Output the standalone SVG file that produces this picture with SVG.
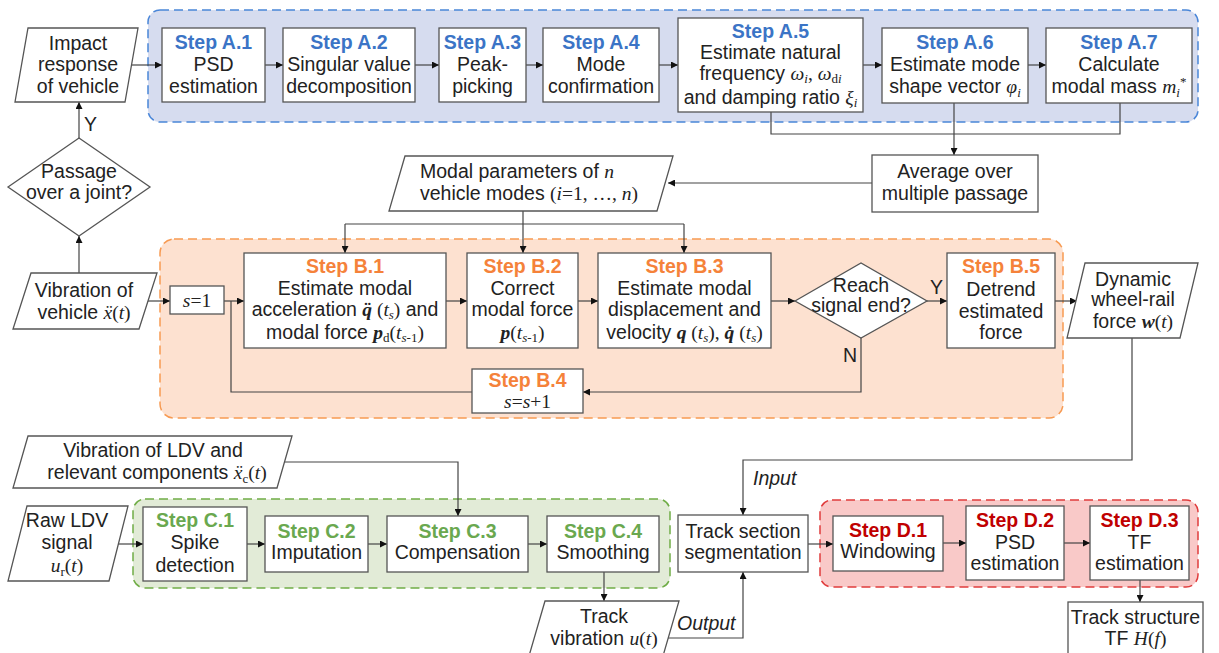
<svg xmlns="http://www.w3.org/2000/svg" width="1219" height="653" viewBox="0 0 1219 653">
<defs>
<marker id="ah" viewBox="0 0 10 10" refX="10" refY="5" markerWidth="8" markerHeight="7" markerUnits="userSpaceOnUse" orient="auto"><path d="M0,0 L10,5 L0,10 z" fill="#111"/></marker>
<style>
.box{fill:#fff;stroke:#555;stroke-width:1.3}
.t{font-family:"Liberation Sans",Arial,sans-serif;font-size:19.5px;fill:#222;text-anchor:middle}
.st{font-weight:bold}
.sA{fill:#3b74c6}.sB{fill:#f5823a}.sC{fill:#6aa84f}.sD{fill:#c00000}
.m{font-family:"Liberation Serif","Times New Roman",serif;font-style:italic}
.r{font-family:"Liberation Serif","Times New Roman",serif;font-style:normal}
.b{font-weight:bold}
.sub{font-size:13px}
.c{fill:none;stroke:#444;stroke-width:1.2}
.ca{fill:none;stroke:#444;stroke-width:1.2;marker-end:url(#ah)}
.lab{font-family:"Liberation Sans",Arial,sans-serif;font-size:19.5px;fill:#222}
</style>
</defs>
<rect width="1219" height="653" fill="#fff"/>

<g id="groups">
<rect x="148" y="10" width="1050" height="112" rx="12" fill="#d6dcef" stroke="#4a86d8" stroke-width="1.5" stroke-dasharray="9,5"/>
<rect x="160" y="239" width="903" height="179" rx="14" fill="#fde1d0" stroke="#f79a52" stroke-width="1.5" stroke-dasharray="9,5"/>
<rect x="133" y="499" width="537" height="89" rx="12" fill="#e2ebd7" stroke="#70ad47" stroke-width="1.5" stroke-dasharray="9,5"/>
<rect x="820" y="500" width="378" height="87" rx="12" fill="#f9c9c8" stroke="#e03c3c" stroke-width="1.5" stroke-dasharray="9,5"/>
</g>

<g id="connectors">
<path class="ca" d="M131,65 H162"/>
<path class="ca" d="M265,65 H283"/>
<path class="ca" d="M415,65 H439"/>
<path class="ca" d="M526,65 H543"/>
<path class="ca" d="M659,65 H678"/>
<path class="ca" d="M863,65 H882"/>
<path class="ca" d="M1028,65 H1046"/>
<path class="c" d="M771,112 V134 H1120 V103"/>
<path class="ca" d="M954,103 V155"/>
<path class="ca" d="M872,183 H668"/>
<path class="ca" d="M523,211 V253"/>
<path class="c" d="M345,224 H684"/>
<path class="ca" d="M345,224 V253"/>
<path class="ca" d="M684,224 V253"/>
<path class="ca" d="M79,273 V236"/>
<path class="ca" d="M79,138 V102"/>
<path class="ca" d="M146,301 H170"/>
<path class="ca" d="M224,301 H244"/>
<path class="ca" d="M446,301 H467"/>
<path class="ca" d="M578,301 H598"/>
<path class="ca" d="M771,301 H795"/>
<path class="ca" d="M927,301 H947"/>
<path class="ca" d="M1055,301 H1077"/>
<path class="ca" d="M861,338 V392 H583"/>
<path class="c" d="M472,392 H231 V301"/>
<path class="ca" d="M1132,338 V460 H743 V515"/>
<path class="ca" d="M285,462 H458 V516"/>
<path class="ca" d="M117,544 H143"/>
<path class="ca" d="M247,544 H265"/>
<path class="ca" d="M368,544 H387"/>
<path class="ca" d="M528,544 H547"/>
<path class="ca" d="M604,572 V601"/>
<path class="ca" d="M667,638 H743 V572"/>
<path class="ca" d="M808,544 H833"/>
<path class="ca" d="M943,543 H966"/>
<path class="ca" d="M1064,543 H1090"/>
<path class="ca" d="M1140,580 V602"/>
<text class="lab" x="84" y="131">Y</text>
<text class="lab" x="930" y="294">Y</text>
<text class="lab" x="843" y="362">N</text>
<text class="lab" x="753" y="485" font-style="italic">Input</text>
<text class="lab" x="677" y="630" font-style="italic">Output</text>
</g>

<g id="impact">
<polygon class="box" points="28,28 138,28 125,102 15,102"/>
<text class="t" x="78" y="50">Impact</text>
<text class="t" x="78" y="71">response</text>
<text class="t" x="78" y="93">of vehicle</text>
</g>

<g id="A1"><rect class="box" x="162" y="28" width="103" height="74"/>
<text class="t st sA" x="213.5" y="49">Step A.1</text>
<text class="t" x="213.5" y="71">PSD</text>
<text class="t" x="213.5" y="93">estimation</text></g>

<g id="A2"><rect class="box" x="283" y="28" width="132" height="74"/>
<text class="t st sA" x="349" y="49">Step A.2</text>
<text class="t" x="349" y="71">Singular value</text>
<text class="t" x="349" y="93">decomposition</text></g>

<g id="A3"><rect class="box" x="439" y="28" width="87" height="74"/>
<text class="t st sA" x="482.5" y="49">Step A.3</text>
<text class="t" x="482.5" y="71">Peak-</text>
<text class="t" x="482.5" y="93">picking</text></g>

<g id="A4"><rect class="box" x="543" y="28" width="116" height="74"/>
<text class="t st sA" x="601" y="49">Step A.4</text>
<text class="t" x="601" y="71">Mode</text>
<text class="t" x="601" y="93">confirmation</text></g>

<g id="A5"><rect class="box" x="678" y="18" width="185" height="94"/>
<text class="t st sA" x="770.5" y="38">Step A.5</text>
<text class="t" x="770.5" y="59">Estimate natural</text>
<text class="t" x="770.5" y="80">frequency <tspan class="m">ω</tspan><tspan class="m sub" dy="3">i</tspan><tspan class="r" dy="-3">, </tspan><tspan class="m">ω</tspan><tspan class="r sub" dy="3">d</tspan><tspan class="m sub">i</tspan></text>
<text class="t" x="770.5" y="104">and damping ratio <tspan class="m">ξ</tspan><tspan class="m sub" dy="3">i</tspan></text></g>

<g id="A6"><rect class="box" x="882" y="28" width="146" height="75"/>
<text class="t st sA" x="955" y="49">Step A.6</text>
<text class="t" x="955" y="71">Estimate mode</text>
<text class="t" x="955" y="93">shape vector <tspan class="m">φ</tspan><tspan class="m sub" dy="4">i</tspan></text></g>

<g id="A7"><rect class="box" x="1046" y="28" width="146" height="75"/>
<text class="t st sA" x="1119" y="49">Step A.7</text>
<text class="t" x="1119" y="71">Calculate</text>
<text class="t" x="1119" y="93">modal mass <tspan class="m">m</tspan><tspan class="m sub" dy="4">i</tspan><tspan class="r sub" dy="-11">*</tspan></text></g>

<g id="average"><rect class="box" x="872" y="155" width="166" height="57"/>
<text class="t" x="955" y="178">Average  over</text>
<text class="t" x="955" y="200">multiple passage</text></g>

<g id="modal-params">
<polygon class="box" points="405,156 673,156 657,211 389,211"/>
<text class="t" x="420" y="178" style="text-anchor:start">Modal parameters of <tspan class="m">n</tspan></text>
<text class="t" x="420" y="200" style="text-anchor:start">vehicle modes <tspan class="r">(</tspan><tspan class="m">i</tspan><tspan class="r">=1, …, </tspan><tspan class="m">n</tspan><tspan class="r">)</tspan></text>
</g>

<g id="passage">
<polygon class="box" points="8,187 79,138 150,187 79,236"/>
<text class="t" x="79" y="178">Passage</text>
<text class="t" x="79" y="199">over a joint?</text>
</g>

<g id="vib-vehicle">
<polygon class="box" points="31,273 157,273 139,329 13,329"/>
<text class="t" x="84" y="297">Vibration of</text>
<text class="t" x="84" y="319">vehicle <tspan class="m">ẍ</tspan><tspan class="r">(</tspan><tspan class="m">t</tspan><tspan class="r">)</tspan></text>
</g>

<g id="s1"><rect class="box" x="170" y="286" width="54" height="28"/>
<text class="t" x="197" y="307"><tspan class="m">s</tspan><tspan class="r">=1</tspan></text></g>

<g id="B1"><rect class="box" x="244" y="253" width="202" height="95"/>
<text class="t st sB" x="345" y="273">Step B.1</text>
<text class="t" x="345" y="295">Estimate modal</text>
<text class="t" x="345" y="316">acceleration <tspan class="m b">q̈</tspan><tspan class="r"> (</tspan><tspan class="m">t</tspan><tspan class="m sub" dy="3">s</tspan><tspan class="r" dy="-3">)</tspan> and</text>
<text class="t" x="345" y="339">modal force <tspan class="m b">p</tspan><tspan class="r sub" dy="3">d</tspan><tspan class="r" dy="-3">(</tspan><tspan class="m">t</tspan><tspan class="r sub" dy="3"><tspan class="m">s</tspan>-1</tspan><tspan class="r" dy="-3">)</tspan></text></g>

<g id="B2"><rect class="box" x="467" y="253" width="111" height="95"/>
<text class="t st sB" x="522.5" y="273">Step B.2</text>
<text class="t" x="522.5" y="295">Correct</text>
<text class="t" x="522.5" y="316">modal force</text>
<text class="t" x="522.5" y="339"><tspan class="m b">p</tspan><tspan class="r">(</tspan><tspan class="m">t</tspan><tspan class="r sub" dy="3"><tspan class="m">s</tspan>-1</tspan><tspan class="r" dy="-3">)</tspan></text></g>

<g id="B3"><rect class="box" x="598" y="253" width="173" height="95"/>
<text class="t st sB" x="684.5" y="273">Step B.3</text>
<text class="t" x="684.5" y="295">Estimate modal</text>
<text class="t" x="684.5" y="316">displacement and</text>
<text class="t" x="684.5" y="339">velocity <tspan class="m b">q</tspan><tspan class="r"> (</tspan><tspan class="m">t</tspan><tspan class="m sub" dy="3">s</tspan><tspan class="r" dy="-3">),  </tspan><tspan class="m b">q̇</tspan><tspan class="r"> (</tspan><tspan class="m">t</tspan><tspan class="m sub" dy="3">s</tspan><tspan class="r" dy="-3">)</tspan></text></g>

<g id="reach">
<polygon class="box" points="795,301 861,263 927,301 861,338"/>
<text class="t" x="861" y="292">Reach</text>
<text class="t" x="861" y="312">signal end?</text>
</g>

<g id="B5"><rect class="box" x="947" y="253" width="108" height="95"/>
<text class="t st sB" x="1001" y="273">Step B.5</text>
<text class="t" x="1001" y="296">Detrend</text>
<text class="t" x="1001" y="318">estimated</text>
<text class="t" x="1001" y="339">force</text></g>

<g id="B4"><rect class="box" x="472" y="369" width="111" height="44"/>
<text class="t st sB" x="527.5" y="387">Step B.4</text>
<text class="t" x="527.5" y="408"><tspan class="m">s</tspan><tspan class="r">=</tspan><tspan class="m">s</tspan><tspan class="r">+1</tspan></text></g>

<g id="dynamic">
<polygon class="box" points="1085,263 1198,263 1180,338 1067,338"/>
<text class="t" x="1133" y="286">Dynamic</text>
<text class="t" x="1133" y="306">wheel-rail</text>
<text class="t" x="1133" y="328">force <tspan class="m b">w</tspan><tspan class="r">(</tspan><tspan class="m">t</tspan><tspan class="r">)</tspan></text>
</g>

<g id="ldv-vib">
<polygon class="box" points="28,436 292,436 277,488 13,488"/>
<text class="t" x="153" y="457">Vibration of LDV and</text>
<text class="t" x="157" y="479">relevant components <tspan class="m">ẍ</tspan><tspan class="r sub" dy="4">c</tspan><tspan class="r" dy="-4">(</tspan><tspan class="m">t</tspan><tspan class="r">)</tspan></text>
</g>

<g id="raw-ldv">
<polygon class="box" points="27,506 128,506 109,581 8,581"/>
<text class="t" x="67" y="527">Raw LDV</text>
<text class="t" x="67" y="549">signal</text>
<text class="t" x="67" y="572"><tspan class="m">u</tspan><tspan class="r sub" dy="4">r</tspan><tspan class="r" dy="-4">(</tspan><tspan class="m">t</tspan><tspan class="r">)</tspan></text>
</g>

<g id="C1"><rect class="box" x="143" y="507" width="104" height="74"/>
<text class="t st sC" x="195" y="527">Step C.1</text>
<text class="t" x="195" y="549">Spike</text>
<text class="t" x="195" y="572">detection</text></g>

<g id="C2"><rect class="box" x="265" y="516" width="103" height="56"/>
<text class="t st sC" x="316.5" y="538">Step C.2</text>
<text class="t" x="316.5" y="559">Imputation</text></g>

<g id="C3"><rect class="box" x="387" y="516" width="141" height="56"/>
<text class="t st sC" x="457.5" y="538">Step C.3</text>
<text class="t" x="457.5" y="559">Compensation</text></g>

<g id="C4"><rect class="box" x="547" y="516" width="112" height="56"/>
<text class="t st sC" x="603" y="538">Step C.4</text>
<text class="t" x="603" y="559">Smoothing</text></g>

<g id="track-vib">
<polygon class="box" points="545,601 679,601 663,656 529,656"/>
<text class="t" x="604" y="623">Track</text>
<text class="t" x="604" y="645">vibration <tspan class="m">u</tspan><tspan class="r">(</tspan><tspan class="m">t</tspan><tspan class="r">)</tspan></text>
</g>

<g id="track-section"><rect class="box" x="678" y="515" width="130" height="57"/>
<text class="t" x="743" y="538">Track section</text>
<text class="t" x="743" y="559">segmentation</text></g>

<g id="D1"><rect class="box" x="833" y="516" width="110" height="55"/>
<text class="t st sD" x="888" y="537">Step D.1</text>
<text class="t" x="888" y="558">Windowing</text></g>

<g id="D2"><rect class="box" x="966" y="506" width="98" height="74"/>
<text class="t st sD" x="1015" y="527">Step D.2</text>
<text class="t" x="1015" y="549">PSD</text>
<text class="t" x="1015" y="570">estimation</text></g>

<g id="D3"><rect class="box" x="1090" y="506" width="99" height="74"/>
<text class="t st sD" x="1139.5" y="527">Step D.3</text>
<text class="t" x="1139.5" y="549">TF</text>
<text class="t" x="1139.5" y="570">estimation</text></g>

<g id="track-structure"><rect class="box" x="1068" y="602" width="135" height="56"/>
<text class="t" x="1135.5" y="624">Track structure</text>
<text class="t" x="1135.5" y="645">TF <tspan class="m">H</tspan><tspan class="r">(</tspan><tspan class="m">f</tspan><tspan class="r">)</tspan></text></g>
</svg>
